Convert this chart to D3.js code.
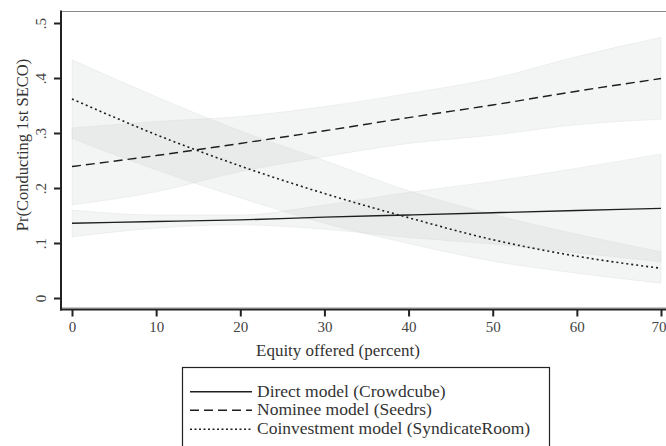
<!DOCTYPE html>
<html>
<head>
<meta charset="utf-8">
<script src="https://cdn.jsdelivr.net/npm/d3@7"></script>
<style>
  html, body { margin: 0; padding: 0; background: #fff; }
  svg { display: block; font-family: "Liberation Serif", "DejaVu Serif", serif; }
</style>
</head>
<body>
<svg id="chart" width="666" height="446"></svg>
<script>
// ---- data ----
const equity = [0, 10, 20, 30, 40, 50, 60, 70];

const directMean = [0.136, 0.139, 0.142, 0.147, 0.151, 0.155, 0.159, 0.163];
const directLo   = [0.111, 0.127, 0.133, 0.125, 0.110, 0.098, 0.082, 0.066];
const directHi   = [0.160, 0.151, 0.151, 0.169, 0.192, 0.212, 0.236, 0.262];

const nomineeMean = [0.239, 0.259, 0.281, 0.304, 0.328, 0.351, 0.376, 0.399];
const nomineeLo   = [0.169, 0.193, 0.230, 0.257, 0.281, 0.296, 0.315, 0.325];
const nomineeHi   = [0.309, 0.321, 0.330, 0.348, 0.372, 0.399, 0.439, 0.474];

const coinvMean = [0.362, 0.297, 0.240, 0.190, 0.146, 0.106, 0.076, 0.054];
const coinvLo   = [0.290, 0.233, 0.182, 0.136, 0.099, 0.067, 0.045, 0.027];
const coinvHi   = [0.433, 0.366, 0.304, 0.250, 0.195, 0.152, 0.116, 0.084];

const xTicks = [0, 10, 20, 30, 40, 50, 60, 70];
const yTicks = [0, 0.1, 0.2, 0.3, 0.4, 0.5];
const yTickLabels = ["0", ".1", ".2", ".3", ".4", ".5"];

const seriesNames = ["Direct model (Crowdcube)", "Nominee model (Seedrs)", "Coinvestment model (SyndicateRoom)"];
const xTitle = "Equity offered (percent)";
const yTitle = "Pr(Conducting 1st SECO)";

// ---- build ----
const svg = d3.select("#chart");
const x = d3.scaleLinear().domain([0, 70]).range([72, 661]);
const y = d3.scaleLinear().domain([0, 0.5]).range([298, 23]);

const series = [
  { name: seriesNames[0], mean: directMean, lo: directLo, hi: directHi, dash: null },
  { name: seriesNames[1], mean: nomineeMean, lo: nomineeLo, hi: nomineeHi, dash: "9,5" },
  { name: seriesNames[2], mean: coinvMean, lo: coinvLo, hi: coinvHi, dash: "2,3" }
];

// plot region outline (grey)
svg.append("line").attr("x1", 61).attr("x2", 666).attr("y1", 11.5).attr("y2", 11.5)
  .attr("stroke", "#8a8a8a").attr("stroke-width", 1.2);
svg.append("line").attr("x1", 61).attr("x2", 666).attr("y1", 307.8).attr("y2", 307.8)
  .attr("stroke", "#b0b0b0").attr("stroke-width", 1);

const area = d3.area()
  .x((d, i) => x(equity[i]))
  .y0(d => y(d[0]))
  .y1(d => y(d[1]))
  .curve(d3.curveMonotoneX);

const line = d3.line()
  .x((d, i) => x(equity[i]))
  .y(d => y(d))
  .curve(d3.curveMonotoneX);

series.forEach(s => {
  const pts = s.lo.map((v, i) => [v, s.hi[i]]);
  svg.append("path").attr("d", area(pts))
    .attr("fill", "#c3c9c9").attr("fill-opacity", 0.2)
    .attr("stroke", "#c3c9c9").attr("stroke-opacity", 0.35).attr("stroke-width", 0.6);
});

series.forEach(s => {
  svg.append("path").attr("d", line(s.mean))
    .attr("fill", "none").attr("stroke", "#1e1e1e")
    .attr("stroke-width", s.dash === "2,3" ? 1.6 : 1.4)
    .attr("stroke-dasharray", s.dash);
});

// y axis
const yAxis = d3.axisLeft(y).tickValues(yTicks).tickSize(7).tickSizeOuter(0)
  .tickFormat((d, i) => yTickLabels[i]);
const gy = svg.append("g").attr("transform", "translate(61,0)").call(yAxis);
gy.select(".domain").remove();
gy.selectAll(".tick line").attr("stroke", "#222").attr("stroke-width", 2);
gy.selectAll(".tick text")
  .attr("transform", "rotate(-90)")
  .attr("x", 0).attr("y", -15).attr("dy", 0)
  .attr("text-anchor", "middle")
  .attr("fill", "#444").attr("font-size", 15)
  .attr("font-family", "Liberation Serif, serif");
svg.append("line").attr("x1", 61).attr("x2", 61).attr("y1", 10.5).attr("y2", 310.5)
  .attr("stroke", "#222").attr("stroke-width", 2);

// x axis
const xAxis = d3.axisBottom(x).tickValues(xTicks).tickSize(7).tickSizeOuter(0);
const gx = svg.append("g").attr("transform", "translate(0,309.5)").call(xAxis);
gx.select(".domain").remove();
gx.selectAll(".tick line").attr("stroke", "#222").attr("stroke-width", 2);
gx.selectAll(".tick text")
  .attr("y", 22.5).attr("dy", 0)
  .attr("fill", "#444").attr("font-size", 15)
  .attr("font-family", "Liberation Serif, serif");
// keep the last label inside the picture
gx.selectAll(".tick text").filter(d => d === 70)
  .attr("text-anchor", "end").attr("x", 5);
svg.append("line").attr("x1", 60).attr("x2", 666).attr("y1", 309.5).attr("y2", 309.5)
  .attr("stroke", "#222").attr("stroke-width", 2);

// axis titles
svg.append("text").attr("x", 338).attr("y", 356).attr("text-anchor", "middle")
  .attr("font-size", 17).attr("fill", "#333").text(xTitle);
svg.append("text").attr("transform", "translate(28,145) rotate(-90)")
  .attr("text-anchor", "middle").attr("font-size", 16.5).attr("fill", "#333").text(yTitle);

// legend
svg.append("rect").attr("x", 182.5).attr("y", 367.5).attr("width", 367).attr("height", 100)
  .attr("fill", "#fff").attr("stroke", "#222").attr("stroke-width", 1.2);
const rowY = [391.7, 410.3, 429.2];
series.forEach((s, i) => {
  svg.append("line").attr("x1", 190).attr("x2", 252).attr("y1", rowY[i]).attr("y2", rowY[i])
    .attr("stroke", "#1e1e1e").attr("stroke-width", s.dash === "2,3" ? 1.6 : 1.4)
    .attr("stroke-dasharray", s.dash === "2,3" ? "2,2.5" : s.dash);
  svg.append("text").attr("x", 257).attr("y", rowY[i] + 5)
    .attr("font-size", 17.5).attr("fill", "#333").text(s.name);
});
</script>
</body>
</html>
